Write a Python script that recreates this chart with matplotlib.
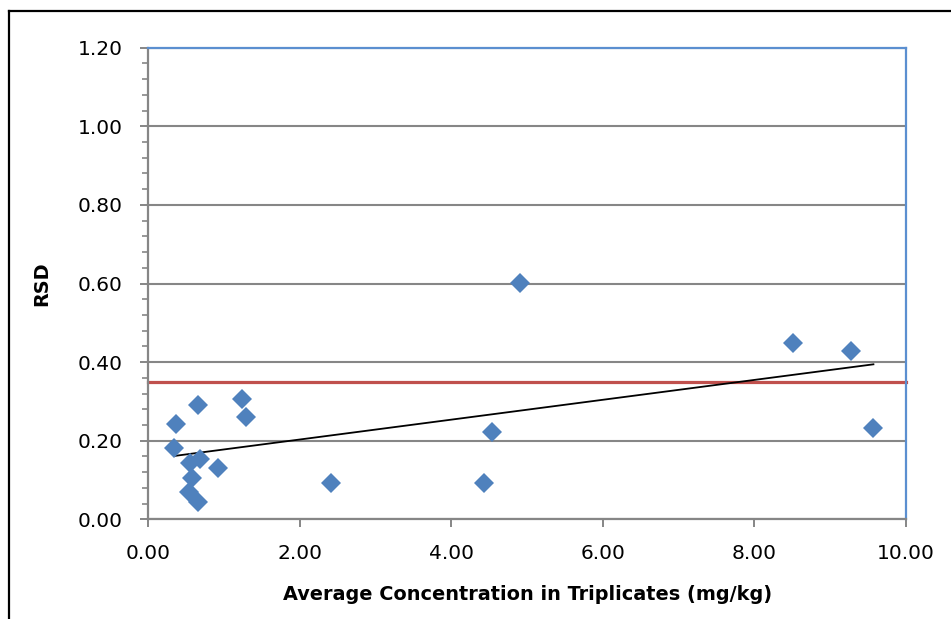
import numpy as np
import matplotlib
matplotlib.use("Agg")
import matplotlib.pyplot as plt
from matplotlib.lines import Line2D
from matplotlib.ticker import MultipleLocator, FormatStrFormatter

# Data
conc = [0.66, 1.24, 1.285, 0.366, 0.339, 0.68, 0.55, 0.916, 0.58, 0.537, 0.652,
        2.41, 4.435, 4.536, 4.906, 8.505, 9.27, 9.57]
rsd = [0.291, 0.306, 0.260, 0.242, 0.182, 0.153, 0.142, 0.131, 0.104, 0.070, 0.045,
       0.092, 0.092, 0.223, 0.602, 0.449, 0.429, 0.232]
threshold = 0.35
x_ticks = [0, 2, 4, 6, 8, 10]
y_ticks = [0.0, 0.2, 0.4, 0.6, 0.8, 1.0, 1.2]

plt.rcParams['font.family'] = ['DejaVu Sans']

fig = plt.figure(figsize=(9.51, 6.19), dpi=100)
ax = fig.add_axes([148.3/951, 1-519.3/619, (906-148.3)/951, (519.3-47.7)/619])

blue = '#4F81BD'
grey = '#868686'

ax.set_xlim(0, 10)
ax.set_ylim(0, 1.2)
ax.set_xticks(x_ticks)
ax.set_yticks(y_ticks)
ax.yaxis.set_minor_locator(MultipleLocator(0.04))
ax.xaxis.set_major_formatter(FormatStrFormatter('%.2f'))
ax.yaxis.set_major_formatter(FormatStrFormatter('%.2f'))

ax.grid(axis='y', which='major', color=grey, linewidth=1.5, zorder=1)
ax.set_axisbelow(True)

ax.spines['left'].set_color(grey)
ax.spines['bottom'].set_color(grey)
ax.spines['left'].set_linewidth(1.6)
ax.spines['bottom'].set_linewidth(1.6)
ax.spines['top'].set_color('#5B8FD0')
ax.spines['right'].set_color('#5B8FD0')
ax.spines['top'].set_linewidth(1.6)
ax.spines['right'].set_linewidth(1.6)

ax.tick_params(axis='both', which='major', direction='out', length=5.5, width=1.4,
               color=grey, labelsize=14.5, labelcolor='black')
ax.tick_params(axis='y', which='major', pad=13)
ax.tick_params(axis='x', which='major', pad=12)
ax.tick_params(axis='y', which='minor', direction='out', length=4, width=1.2, color=grey)

# threshold line
ax.axhline(threshold, color='#C0504D', linewidth=2.3, zorder=2, clip_on=False)

# trend line (linear fit)
coef = np.polyfit(conc, rsd, 1)
xx = np.array([min(conc), max(conc)])
ax.plot(xx, np.polyval(coef, xx), color='black', linewidth=1.3, zorder=3)

ax.plot(conc, rsd, linestyle='none', marker='D', markersize=10, color=blue,
        markeredgewidth=0, zorder=4)

ax.set_xlabel('Average Concentration in Triplicates (mg/kg)', fontsize=13.9,
              fontweight='bold', labelpad=16)
ax.set_ylabel('RSD', fontsize=13.9, fontweight='bold', labelpad=19)

# outer chart frame (cropped)
fig.add_artist(Line2D([9/951, 9/951], [0, 1-11/619], transform=fig.transFigure,
                      color='black', linewidth=1.6))
fig.add_artist(Line2D([9/951, 1], [1-11/619, 1-11/619], transform=fig.transFigure,
                      color='black', linewidth=1.6))

fig.savefig('out.png', dpi=100)
